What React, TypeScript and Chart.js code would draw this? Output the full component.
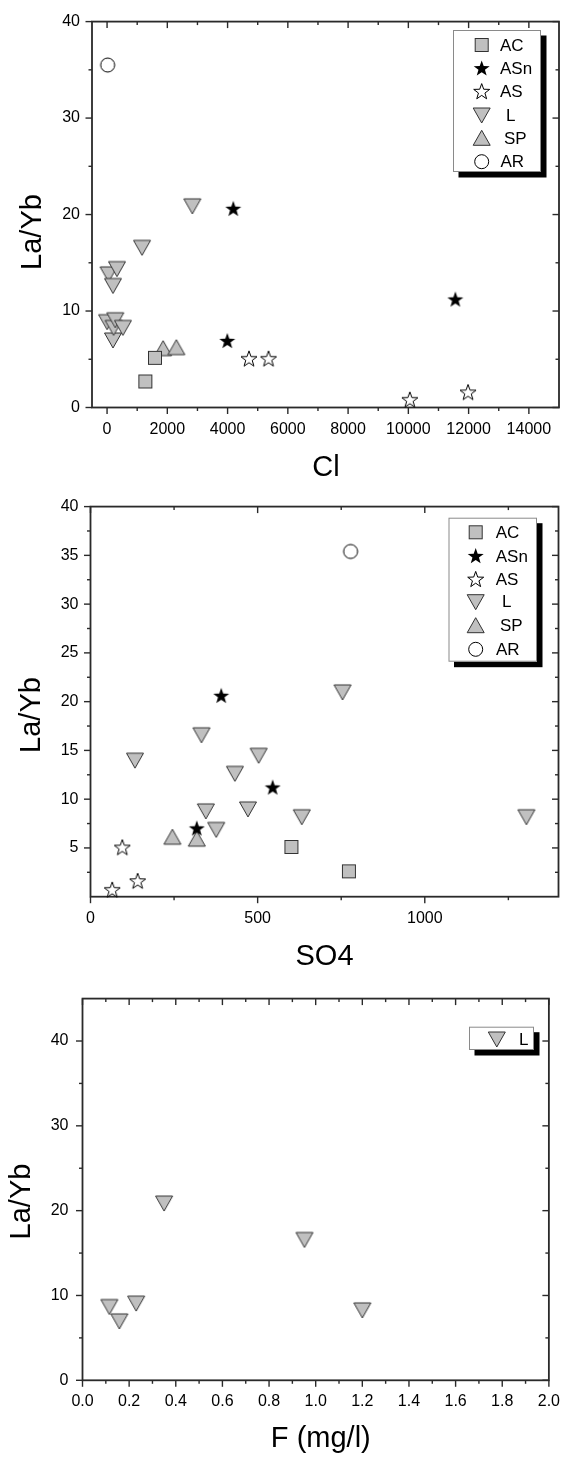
import React, { useEffect, useRef } from "react";
import { Chart, registerables } from "chart.js";

Chart.register(...registerables);

// ---------------- data ----------------
// Panel 1 : La/Yb vs Cl
const CL_AC_X = [1270, 1590];
const CL_AC_Y = [2.7, 5.15];
const CL_ASN_X = [3990, 4190, 11560];
const CL_ASN_Y = [6.9, 20.6, 11.2];
const CL_AS_X = [4710, 5360, 10050, 11980];
const CL_AS_Y = [5.05, 5.05, 0.8, 1.57];
const CL_L_X = [0, 50, 195, 195, 216, 272, 328, 526, 1160, 2830];
const CL_L_Y = [8.9, 13.85, 12.65, 7.0, 8.3, 9.1, 14.4, 8.3, 16.6, 20.9];
const CL_SP_X = [1860, 2300];
const CL_SP_Y = [6.1, 6.2];
const CL_AR_X = [20];
const CL_AR_Y = [35.5];
const CL_X_TICKS = [0, 2000, 4000, 6000, 8000, 10000, 12000, 14000];
const CL_X_LABELS = ["0", "2000", "4000", "6000", "8000", "10000", "12000", "14000"];
const CL_X_MINOR = [-1000, 1000, 3000, 5000, 7000, 9000, 11000, 13000];
const CL_Y_TICKS = [0, 10, 20, 30, 40];
const CL_Y_LABELS = ["0", "10", "20", "30", "40"];
const CL_Y_MINOR = [5, 15, 25, 35];

// Panel 2 : La/Yb vs SO4
const SO4_AC_X = [601, 773];
const SO4_AC_Y = [5.1, 2.6];
const SO4_ASN_X = [318, 391, 545];
const SO4_ASN_Y = [7.0, 20.6, 11.2];
const SO4_AS_X = [65, 95, 141];
const SO4_AS_Y = [0.7, 5.05, 1.6];
const SO4_L_X = [133, 332, 345, 376, 432, 471, 503, 632, 754, 1304];
const SO4_L_Y = [14.0, 16.6, 8.8, 6.9, 12.65, 9.0, 14.5, 8.2, 21.0, 8.2];
const SO4_SP_X = [245, 318];
const SO4_SP_Y = [6.1, 5.9];
const SO4_AR_X = [778];
const SO4_AR_Y = [35.4];
const SO4_X_TICKS = [0, 500, 1000];
const SO4_X_LABELS = ["0", "500", "1000"];
const SO4_X_MINOR = [250, 750, 1250];
const SO4_Y_TICKS = [5, 10, 15, 20, 25, 30, 35, 40];
const SO4_Y_LABELS = ["5", "10", "15", "20", "25", "30", "35", "40"];
const SO4_Y_MINOR = [2.5, 7.5, 12.5, 17.5, 22.5, 27.5, 32.5, 37.5];

// Panel 3 : La/Yb vs F (mg/l)
const F_L_X = [0.115, 0.158, 0.23, 0.35, 0.952, 1.2];
const F_L_Y = [8.7, 7.0, 9.1, 20.9, 16.6, 8.3];
const F_X_TICKS = [0, 0.2, 0.4, 0.6, 0.8, 1.0, 1.2, 1.4, 1.6, 1.8, 2.0];
const F_X_LABELS = ["0.0", "0.2", "0.4", "0.6", "0.8", "1.0", "1.2", "1.4", "1.6", "1.8", "2.0"];
const F_X_MINOR = [0.1, 0.3, 0.5, 0.7, 0.9, 1.1, 1.3, 1.5, 1.7, 1.9];
const F_Y_TICKS = [0, 10, 20, 30, 40];
const F_Y_LABELS = ["0", "10", "20", "30", "40"];
const F_Y_MINOR = [5, 15, 25, 35];

const SERIES_NAMES = ["AC", "ASn", "AS", "L", "SP", "AR"];

// ---------------- styling ----------------
const FONT = "'Liberation Sans', Arial, Helvetica, sans-serif";
const AXIS = "#2a2a2a";
const GRAY = "#c0c0c0";
const EDGE = "#333333";
const W = 572;

type Kind = "square" | "starFilled" | "starOpen" | "triDown" | "triUp" | "circle";
const KIND_BY_NAME: Record<string, Kind> = {
  AC: "square",
  ASn: "starFilled",
  AS: "starOpen",
  L: "triDown",
  SP: "triUp",
  AR: "circle",
};

function starPath(ctx: CanvasRenderingContext2D, cx: number, cy: number, R: number, r: number) {
  ctx.beginPath();
  for (let i = 0; i < 10; i++) {
    const rad = i % 2 === 0 ? R : r;
    const a = -Math.PI / 2 + (i * Math.PI) / 5;
    const x = cx + rad * Math.cos(a);
    const y = cy + rad * Math.sin(a);
    if (i === 0) ctx.moveTo(x, y);
    else ctx.lineTo(x, y);
  }
  ctx.closePath();
}

function drawMarker(ctx: CanvasRenderingContext2D, kind: Kind, cx: number, cy: number) {
  ctx.save();
  ctx.lineWidth = 1;
  ctx.lineJoin = "miter";
  if (kind === "square") {
    ctx.fillStyle = GRAY;
    ctx.strokeStyle = EDGE;
    ctx.fillRect(cx - 6.5, cy - 6.5, 13, 13);
    ctx.strokeRect(cx - 6.5, cy - 6.5, 13, 13);
  } else if (kind === "starFilled") {
    starPath(ctx, cx, cy + 0.5, 8.4, 3.4);
    ctx.fillStyle = "#000";
    ctx.fill();
  } else if (kind === "starOpen") {
    starPath(ctx, cx, cy + 0.5, 8.4, 3.4);
    ctx.fillStyle = "#fff";
    ctx.fill();
    ctx.strokeStyle = "#000";
    ctx.stroke();
  } else if (kind === "triDown") {
    ctx.beginPath();
    ctx.moveTo(cx - 8.5, cy - 7);
    ctx.lineTo(cx + 8.5, cy - 7);
    ctx.lineTo(cx, cy + 8);
    ctx.closePath();
    ctx.fillStyle = GRAY;
    ctx.fill();
    ctx.strokeStyle = EDGE;
    ctx.stroke();
  } else if (kind === "triUp") {
    ctx.beginPath();
    ctx.moveTo(cx - 8.5, cy + 7);
    ctx.lineTo(cx + 8.5, cy + 7);
    ctx.lineTo(cx, cy - 8);
    ctx.closePath();
    ctx.fillStyle = GRAY;
    ctx.fill();
    ctx.strokeStyle = EDGE;
    ctx.stroke();
  } else if (kind === "circle") {
    ctx.beginPath();
    ctx.arc(cx, cy, 7, 0, Math.PI * 2);
    ctx.fillStyle = "#fff";
    ctx.fill();
    ctx.strokeStyle = "#000";
    ctx.stroke();
  }
  ctx.restore();
}

const markerCache: Partial<Record<Kind, HTMLCanvasElement>> = {};
function markerCanvas(kind: Kind): HTMLCanvasElement {
  if (!markerCache[kind]) {
    const c = document.createElement("canvas");
    c.width = 24;
    c.height = 24;
    const ctx = c.getContext("2d")!;
    drawMarker(ctx, kind, 12, 12);
    markerCache[kind] = c;
  }
  return markerCache[kind]!;
}

interface Series {
  name: string;
  xs: number[];
  ys: number[];
}

interface Panel {
  key: string;
  top: number;
  height: number;
  area: { left: number; right: number; top: number; bottom: number };
  xMin: number;
  xMax: number;
  yMin: number;
  yMax: number;
  xTicks: number[];
  xLabels: string[];
  xMinor: number[];
  yTicks: number[];
  yLabels: string[];
  yMinor: number[];
  yLabelPad: number;
  xTitle: string;
  xTitlePos: [number, number];
  yTitlePos: [number, number];
  series: Series[];
  legend: {
    box: [number, number, number, number];
    rowsY: number[];
    markerX: number;
    textX: number[];
  };
}

const pairs = (names: string[], xs: number[][], ys: number[][]): Series[] =>
  names.map((n, i) => ({ name: n, xs: xs[i], ys: ys[i] }));

const PANELS: Panel[] = [
  {
    key: "cl",
    top: 0,
    height: 485,
    area: { left: 92, right: 559, top: 16, bottom: 407.5 },
    xMin: -500,
    xMax: 15000,
    yMin: 0,
    yMax: 40,
    xTicks: CL_X_TICKS,
    xLabels: CL_X_LABELS,
    xMinor: CL_X_MINOR,
    yTicks: CL_Y_TICKS,
    yLabels: CL_Y_LABELS,
    yMinor: CL_Y_MINOR,
    yLabelPad: 12,
    xTitle: "Cl",
    xTitlePos: [326, 476],
    yTitlePos: [33, 232],
    series: pairs(
      SERIES_NAMES,
      [CL_AC_X, CL_ASN_X, CL_AS_X, CL_L_X, CL_SP_X, CL_AR_X],
      [CL_AC_Y, CL_ASN_Y, CL_AS_Y, CL_L_Y, CL_SP_Y, CL_AR_Y]
    ),
    legend: {
      box: [453, 30, 541, 172],
      rowsY: [45, 68.3, 91.5, 115, 138.3, 161.7],
      markerX: 481.7,
      textX: [500, 500, 500, 506, 504, 500.5],
    },
  },
  {
    key: "so4",
    top: 485,
    height: 490,
    area: { left: 90.5, right: 558.5, top: 15.7, bottom: 411.7 },
    xMin: 0,
    xMax: 1400,
    yMin: 0,
    yMax: 40,
    xTicks: SO4_X_TICKS,
    xLabels: SO4_X_LABELS,
    xMinor: SO4_X_MINOR,
    yTicks: SO4_Y_TICKS,
    yLabels: SO4_Y_LABELS,
    yMinor: SO4_Y_MINOR,
    yLabelPad: 12,
    xTitle: "SO4",
    xTitlePos: [324.5, 480],
    yTitlePos: [31.7, 230],
    series: pairs(
      SERIES_NAMES,
      [SO4_AC_X, SO4_ASN_X, SO4_AS_X, SO4_L_X, SO4_SP_X, SO4_AR_X],
      [SO4_AC_Y, SO4_ASN_Y, SO4_AS_Y, SO4_L_Y, SO4_SP_Y, SO4_AR_Y]
    ),
    legend: {
      box: [448.5, 32.7, 537, 176.7],
      rowsY: [47.3, 71, 94.3, 116.7, 140.7, 164.3],
      markerX: 475.7,
      textX: [495.7, 495.7, 495.7, 502, 500, 496],
    },
  },
  {
    key: "f",
    top: 975,
    height: 486,
    area: { left: 82.5, right: 557, top: 7.7, bottom: 405.3 },
    xMin: 0,
    xMax: 2,
    yMin: 0,
    yMax: 45,
    xTicks: F_X_TICKS,
    xLabels: F_X_LABELS,
    xMinor: F_X_MINOR,
    yTicks: F_Y_TICKS,
    yLabels: F_Y_LABELS,
    yMinor: F_Y_MINOR,
    yLabelPad: 14,
    xTitle: "F (mg/l)",
    xTitlePos: [320.8, 472],
    yTitlePos: [22, 226.5],
    series: [{ name: "L", xs: F_L_X, ys: F_L_Y }],
    legend: {
      box: [469, 51.7, 534, 75],
      rowsY: [64],
      markerX: 496.8,
      textX: [519],
    },
  },
];

function makeDecor(p: Panel) {
  const MAJ = 6.5;
  const MIN = 3.5;
  return {
    id: "decor_" + p.key,
    beforeDatasetsDraw(chart: any) {
      const ctx: CanvasRenderingContext2D = chart.ctx;
      const a = chart.chartArea;
      const xs = chart.scales.x;
      const ys = chart.scales.y;
      ctx.save();
      ctx.strokeStyle = AXIS;
      ctx.lineWidth = 1.4;
      const seg = (x1: number, y1: number, x2: number, y2: number) => {
        ctx.beginPath();
        ctx.moveTo(x1, y1);
        ctx.lineTo(x2, y2);
        ctx.stroke();
      };
      const xTick = (v: number, len: number) => {
        const px = xs.getPixelForValue(v);
        if (px < a.left - 0.5 || px > a.right + 0.5) return;
        seg(px, a.bottom, px, a.bottom + len); // outward bottom
        seg(px, a.top, px, a.top + len); // inward top
      };
      const yTick = (v: number, len: number) => {
        const py = ys.getPixelForValue(v);
        if (py < a.top - 0.5 || py > a.bottom + 0.5) return;
        seg(a.left, py, a.left - len, py); // outward left
        seg(a.right, py, a.right - len, py); // inward right
      };
      p.xTicks.forEach((v) => xTick(v, MAJ));
      p.xMinor.forEach((v) => xTick(v, MIN));
      p.yTicks.forEach((v) => yTick(v, MAJ));
      p.yMinor.forEach((v) => yTick(v, MIN));
      ctx.lineWidth = 1.8;
      ctx.strokeRect(a.left, a.top, a.right - a.left, a.bottom - a.top);
      ctx.restore();
    },
    afterDraw(chart: any) {
      const ctx: CanvasRenderingContext2D = chart.ctx;
      ctx.save();
      // legend
      const [x0, y0, x1, y1] = p.legend.box;
      ctx.fillStyle = "#000";
      ctx.fillRect(x0 + 5.5, y0 + 5.5, x1 - x0, y1 - y0);
      ctx.fillStyle = "#fff";
      ctx.fillRect(x0, y0, x1 - x0, y1 - y0);
      ctx.strokeStyle = "#8a8a8a";
      ctx.lineWidth = 1;
      ctx.strokeRect(x0 + 0.5, y0 + 0.5, x1 - x0 - 1, y1 - y0 - 1);
      ctx.font = `17px ${FONT}`;
      ctx.textBaseline = "middle";
      ctx.textAlign = "left";
      p.series.forEach((s, i) => {
        const y = p.legend.rowsY[i];
        drawMarker(ctx, KIND_BY_NAME[s.name], p.legend.markerX, y);
        ctx.fillStyle = "#000";
        ctx.fillText(s.name, p.legend.textX[i], y + 1);
      });
      // axis titles
      ctx.fillStyle = "#000";
      ctx.font = `29px ${FONT}`;
      ctx.textAlign = "center";
      ctx.textBaseline = "alphabetic";
      ctx.fillText(p.xTitle, p.xTitlePos[0], p.xTitlePos[1]);
      ctx.translate(p.yTitlePos[0], p.yTitlePos[1]);
      ctx.rotate(-Math.PI / 2);
      ctx.textBaseline = "middle";
      ctx.fillText("La/Yb", 0, 0);
      ctx.restore();
    },
  };
}

function buildConfig(p: Panel): any {
  const datasets = p.series.map((s) => ({
    label: s.name,
    data: s.xs.map((x, i) => ({ x, y: s.ys[i] })),
    pointStyle: markerCanvas(KIND_BY_NAME[s.name]),
    pointRadius: 8,
    pointHoverRadius: 8,
    borderWidth: 0,
    showLine: false,
    clip: false,
  }));
  return {
    type: "scatter",
    data: { datasets },
    plugins: [makeDecor(p)],
    options: {
      responsive: false,
      animation: false,
      devicePixelRatio: 1,
      layout: {
        padding: { left: 0, top: p.area.top, right: W - p.area.right, bottom: 0 },
      },
      plugins: { legend: { display: false }, tooltip: { enabled: false } },
      scales: {
        x: {
          type: "linear",
          position: "bottom",
          min: p.xMin,
          max: p.xMax,
          afterBuildTicks: (sc: any) => {
            sc.ticks = p.xTicks.map((v) => ({ value: v }));
          },
          afterFit: (sc: any) => {
            sc.height = p.height - p.area.bottom;
          },
          grid: { display: false, drawTicks: false },
          border: { display: false },
          ticks: {
            autoSkip: false,
            maxRotation: 0,
            minRotation: 0,
            padding: 12,
            color: "#000",
            font: { family: FONT, size: 16 },
            callback: (_v: any, i: number) => p.xLabels[i],
          },
        },
        y: {
          type: "linear",
          position: "left",
          min: p.yMin,
          max: p.yMax,
          afterBuildTicks: (sc: any) => {
            sc.ticks = p.yTicks.map((v) => ({ value: v }));
          },
          afterFit: (sc: any) => {
            sc.width = p.area.left;
          },
          grid: { display: false, drawTicks: false },
          border: { display: false },
          ticks: {
            autoSkip: false,
            padding: p.yLabelPad,
            color: "#000",
            font: { family: FONT, size: 16 },
            callback: (_v: any, i: number) => p.yLabels[i],
          },
        },
      },
    },
  };
}

function PanelChart({ p }: { p: Panel }) {
  const ref = useRef<HTMLCanvasElement>(null);
  useEffect(() => {
    if (!ref.current) return;
    const chart = new Chart(ref.current, buildConfig(p));
    return () => chart.destroy();
  }, [p]);
  return (
    <div style={{ position: "absolute", left: 0, top: p.top, width: W, height: p.height }}>
      <canvas ref={ref} width={W} height={p.height} style={{ display: "block", width: W, height: p.height }} />
    </div>
  );
}

export default function App() {
  return (
    <div style={{ position: "absolute", left: 0, top: 0, width: W, height: 1461, background: "#fff" }}>
      {PANELS.map((p) => (
        <PanelChart key={p.key} p={p} />
      ))}
    </div>
  );
}
